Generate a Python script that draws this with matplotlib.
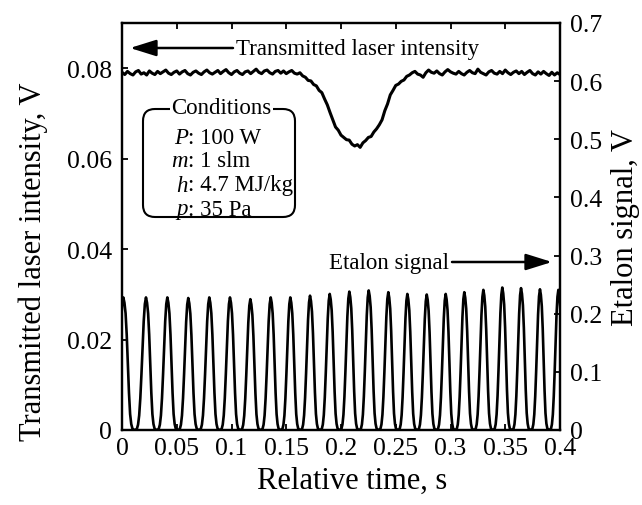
import numpy as np
import matplotlib
matplotlib.use("Agg")
import matplotlib.pyplot as plt
from matplotlib.patches import FancyBboxPatch

plt.rcParams['font.family'] = ['Liberation Serif', 'DejaVu Serif']

# ---------------- data ----------------
# Transmitted laser intensity (V), sampled every 2.5 ms from 0 to 0.4 s
trans = [
    0.0791, 0.0786, 0.0793, 0.0788, 0.0785, 0.0792, 0.0795, 0.0787, 0.0790, 0.0785,
    0.0794, 0.0789, 0.0786, 0.0793, 0.0788, 0.0792, 0.0796, 0.0789, 0.0786, 0.0791,
    0.0794, 0.0787, 0.0792, 0.0795, 0.0788, 0.0785, 0.0791, 0.0794, 0.0789, 0.0786,
    0.0792, 0.0796, 0.0790, 0.0787, 0.0791, 0.0795, 0.0788, 0.0793, 0.0797, 0.0790,
    0.0786, 0.0792, 0.0795, 0.0789, 0.0786, 0.0792, 0.0794, 0.0788, 0.0793, 0.0798,
    0.0791, 0.0788, 0.0794, 0.0796, 0.0790, 0.0787, 0.0793, 0.0795, 0.0789, 0.0794,
    0.0788, 0.0792, 0.0795, 0.0789, 0.0787,
    0.0790, 0.0783, 0.0780, 0.0773, 0.0772, 0.0764, 0.0761, 0.0751, 0.0746, 0.0732,
    0.0719, 0.0702, 0.0686, 0.0670, 0.0663, 0.0652, 0.0647, 0.0642, 0.0641, 0.0632,
    0.0628, 0.0631, 0.0625, 0.0635, 0.0640, 0.0647, 0.0649, 0.0659, 0.0666, 0.0675,
    0.0686, 0.0706, 0.0721, 0.0741, 0.0751, 0.0762, 0.0765, 0.0771, 0.0774, 0.0782,
    0.0785, 0.0790, 0.0793, 0.0787, 0.0785, 0.0780, 0.0790, 0.0796, 0.0791,
    0.0789, 0.0794, 0.0788, 0.0785, 0.0792, 0.0797, 0.0792, 0.0789, 0.0787, 0.0793,
    0.0788, 0.0785, 0.0791, 0.0795, 0.0790, 0.0788, 0.0798, 0.0791, 0.0788, 0.0785,
    0.0792, 0.0795, 0.0789, 0.0787, 0.0793, 0.0788, 0.0796, 0.0790, 0.0786, 0.0791,
    0.0794, 0.0788, 0.0793, 0.0786, 0.0791, 0.0795, 0.0788, 0.0785, 0.0792, 0.0787,
    0.0793, 0.0788, 0.0784, 0.0791, 0.0785, 0.0790, 0.0786,
]

# Etalon transmission peaks: times (s) and heights (V)
peak_t = [0.0012, 0.0219, 0.0414, 0.0605, 0.0797, 0.0986, 0.1172, 0.1358,
          0.1537, 0.1717, 0.1897, 0.2076, 0.2253, 0.2432, 0.2606, 0.2783,
          0.2956, 0.3126, 0.3300, 0.3473, 0.3644, 0.3817, 0.3985]
peak_v = [0.228, 0.228, 0.228, 0.227, 0.228, 0.228, 0.225, 0.228,
          0.228, 0.231, 0.234, 0.238, 0.240, 0.237, 0.234, 0.233,
          0.234, 0.237, 0.241, 0.245, 0.244, 0.242, 0.241]
# normalised fringe shape, half-period before and after each peak
fringe_rise = [0.0, 0.002, 0.01, 0.04, 0.11, 0.24, 0.42, 0.63, 0.82, 0.95, 1.0]
fringe_fall = [1.0, 0.96, 0.88, 0.72, 0.50, 0.28, 0.12, 0.045, 0.012, 0.003, 0.0]

x_ticks = [0, 0.05, 0.1, 0.15, 0.2, 0.25, 0.3, 0.35, 0.4]
x_labels = ['0', '0.05', '0.1', '0.15', '0.2', '0.25', '0.3', '0.35', '0.4']
yl_ticks = [0, 0.02, 0.04, 0.06, 0.08]
yl_labels = ['0', '0.02', '0.04', '0.06', '0.08']
yr_ticks = [0, 0.1, 0.2, 0.3, 0.4, 0.5, 0.6, 0.7]
yr_labels = ['0', '0.1', '0.2', '0.3', '0.4', '0.5', '0.6', '0.7']

cond_sym = ['P', 'm', 'h', 'p']
cond_val = [': 100 W', ': 1 slm', ': 4.7 MJ/kg', ': 35 Pa']

# ---------------- build the etalon trace ----------------
et_t, et_v = [], []
n = len(peak_t)
for k in range(n):
    tk, vk = peak_t[k], peak_v[k]
    left = (peak_t[k - 1] + tk) / 2 if k > 0 else tk - (peak_t[1] - peak_t[0]) / 2
    right = (tk + peak_t[k + 1]) / 2 if k < n - 1 else tk + (tk - peak_t[k - 1]) / 2
    tr = np.linspace(left, tk, len(fringe_rise))
    tf = np.linspace(tk, right, len(fringe_fall))
    start = 0 if k == 0 else 1
    et_t.extend(tr[start:])
    et_v.extend(vk * np.array(fringe_rise[start:]))
    et_t.extend(tf[1:])
    et_v.extend(vk * np.array(fringe_fall[1:]))

t_trans = np.linspace(0, 0.4, len(trans))

# ---------------- figure ----------------
W, H = 642, 506
fig = plt.figure(figsize=(W / 100, H / 100), dpi=100)
ax = fig.add_axes([122 / W, 1 - 431 / H, (560 - 122) / W, (431 - 24) / H])
ax2 = ax.twinx()

ax.plot(t_trans, trans, color='black', lw=2.2)
ax2.plot(et_t, et_v, color='black', lw=1.9)

ax.set_xlim(0, 0.4)
ax.set_ylim(0, 0.09)
ax2.set_ylim(0, 0.7)

ax.set_xticks(x_ticks)
ax.set_xticklabels(x_labels)
ax.set_yticks(yl_ticks)
ax.set_yticklabels(yl_labels)
ax2.set_yticks(yr_ticks)
ax2.set_yticklabels(yr_labels)

ax.tick_params(axis='x', direction='in', top=True, bottom=True, length=4.5,
               width=1.3, labelsize=18.5, pad=5)
ax.tick_params(axis='y', direction='in', left=True, right=False, length=4.5,
               width=1.3, labelsize=18.5, pad=7)
ax2.tick_params(axis='y', direction='in', right=True, length=4.5,
                width=1.3, labelsize=18.5, pad=7)
for a in (ax, ax2):
    for s in a.spines.values():
        s.set_linewidth(1.6)

ax.set_xlabel('Relative time, s', fontsize=22)
ax.set_ylabel('Transmitted laser intensity, V', fontsize=22)
ax2.set_ylabel('Etalon signal, V', fontsize=22)
ax.xaxis.set_label_coords((352 - 122) / 438, -(481 - 431) / 407)
ax.yaxis.set_label_coords(-(122 - 33) / 438, (431 - 262) / 407)
ax2.yaxis.set_label_coords(1 + (626 - 560) / 438, 0.5)
ax.xaxis.label.set_va('center')
ax.yaxis.label.set_va('center')
ax2.yaxis.label.set_va('center')


def fp(x, y):
    return (x / W, 1 - y / H)


def fpx(x, y):
    return (x, H - y)


arrow_style = '-|>,head_length=0.8,head_width=0.25'
# transmitted-intensity marker (points to the left axis)
ax.annotate('', xy=fpx(130, 49), xytext=fpx(233, 49), xycoords='figure pixels',
            textcoords='figure pixels',
            arrowprops=dict(arrowstyle=arrow_style, lw=1.8, color='black',
                            mutation_scale=20, shrinkA=0, shrinkB=0))
fig.text(*fp(236, 49), 'Transmitted laser intensity', fontsize=16.5,
         ha='left', va='center')

# etalon marker (points to the right axis)
fig.text(*fp(449, 263), 'Etalon signal', fontsize=16.5, ha='right', va='center')
ax.annotate('', xy=fpx(552, 263), xytext=fpx(452, 263), xycoords='figure pixels',
            textcoords='figure pixels',
            arrowprops=dict(arrowstyle=arrow_style, lw=1.8, color='black',
                            mutation_scale=20, shrinkA=0, shrinkB=0))

# conditions box
box = FancyBboxPatch((1.43, (H - 218) / 100), 2.95 - 1.43, (218 - 110) / 100,
                     boxstyle='round,pad=0,rounding_size=0.12',
                     transform=fig.dpi_scale_trans, fill=False,
                     edgecolor='black', lw=1.5, zorder=5)
fig.add_artist(box)
fig.text(*fp(221, 108), 'Conditions', fontsize=16.5, ha='center', va='center',
         zorder=6, bbox=dict(facecolor='white', edgecolor='none', pad=1.0))
for i, (sym, val) in enumerate(zip(cond_sym, cond_val)):
    y = 138 + 24 * i
    fig.text(*fp(188, y), sym, fontsize=16.5, fontstyle='italic',
             ha='right', va='center', zorder=6)
    fig.text(*fp(188, y), val, fontsize=16.5, ha='left', va='center', zorder=6)

fig.savefig('out.png', dpi=100)
